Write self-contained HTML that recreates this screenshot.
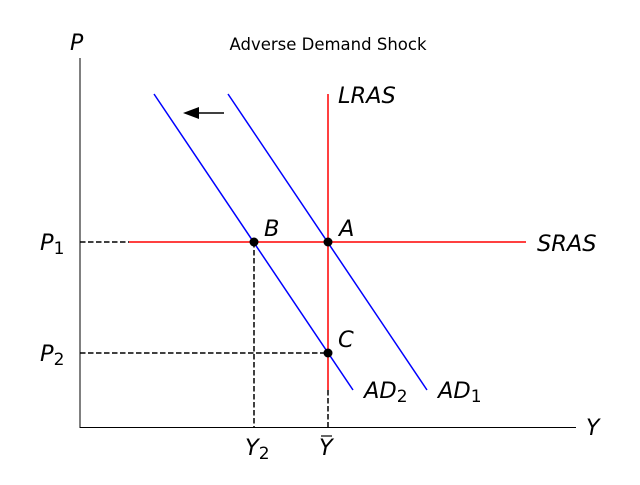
<!DOCTYPE html>
<html><head><meta charset="utf-8"><style>html,body{margin:0;padding:0;background:#fff}</style></head>
<body>
<svg width="640" height="480" viewBox="0 0 640 480" xmlns="http://www.w3.org/2000/svg" font-family="DejaVu Sans, Liberation Sans, sans-serif">
<rect width="640" height="480" fill="#fff"/>
<line x1="80" y1="58" x2="80" y2="427.5" stroke="#000" stroke-width="1"/>
<line x1="79.5" y1="427.5" x2="576" y2="427.5" stroke="#000" stroke-width="1"/>
<text x="328" y="50" font-size="16.5" text-anchor="middle">Adverse Demand Shock</text>
<text x="70" y="50" font-size="22" font-style="italic">P</text>
<text x="586" y="435" font-size="22" font-style="italic">Y</text>
<g stroke="#000" stroke-width="1.5" stroke-dasharray="5.5,2.5" fill="none">
<line x1="80" y1="242" x2="129" y2="242"/>
<line x1="80" y1="353" x2="328" y2="353"/>
<line x1="254" y1="242" x2="254" y2="427"/>
<line x1="328" y1="390" x2="328" y2="427"/>
</g>
<line x1="328" y1="94" x2="328" y2="390" stroke="red" stroke-width="1.5"/>
<line x1="129" y1="242" x2="526" y2="242" stroke="red" stroke-width="1.5"/>
<line x1="228" y1="94" x2="427" y2="390" stroke="blue" stroke-width="1.5"/>
<line x1="154" y1="94" x2="353" y2="390" stroke="blue" stroke-width="1.5"/>
<circle cx="254" cy="242" r="4.5" fill="#000"/>
<circle cx="328" cy="242" r="4.5" fill="#000"/>
<circle cx="328" cy="353" r="4.5" fill="#000"/>
<line x1="224" y1="113" x2="196" y2="113" stroke="#000" stroke-width="1.5"/>
<polygon points="183,113 199,107 199,119" fill="#000"/>
<g font-size="22.5" font-style="italic">
<text x="338" y="103">LRAS</text>
<text x="339" y="236">A</text>
<text x="264" y="236">B</text>
<text x="338" y="347">C</text>
<text x="537" y="251">SRAS</text>
<text x="364" y="398">AD<tspan font-style="normal" font-size="17" dy="4">2</tspan></text>
<text x="438" y="398">AD<tspan font-style="normal" font-size="17" dy="4">1</tspan></text>
<text x="40" y="250">P<tspan font-style="normal" font-size="17" dy="4">1</tspan></text>
<text x="40" y="361">P<tspan font-style="normal" font-size="17" dy="4">2</tspan></text>
<text x="245" y="455">Y<tspan font-style="normal" font-size="17" dy="4">2</tspan></text>
<text x="319" y="455">Y</text>
</g>
<line x1="321" y1="436" x2="332" y2="436" stroke="#000" stroke-width="1.2"/>
</svg>
</body></html>
